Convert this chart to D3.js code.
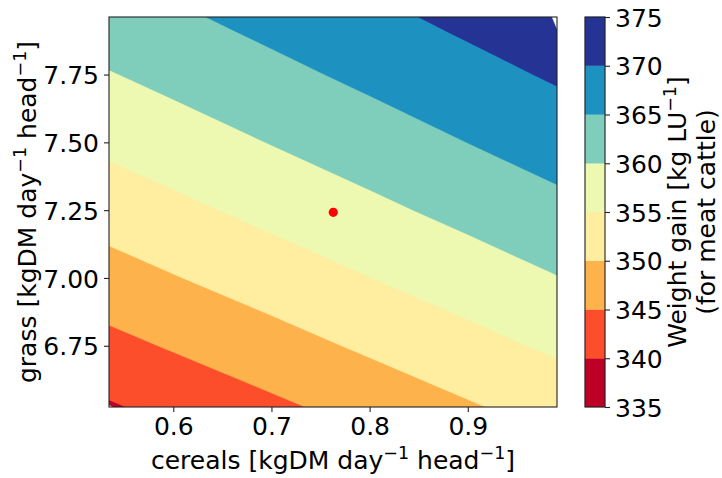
<!DOCTYPE html>
<html><head><meta charset="utf-8">
<script src="https://cdn.jsdelivr.net/npm/d3@7"></script>
<style>
body{margin:0;background:#fff;}
svg{display:block;font-family:"DejaVu Sans",sans-serif;}
</style></head><body>
<svg id="chart" width="722" height="478"></svg>
<script>
// grid nodes (data units)
const cereals = [0.5345, 0.54, 0.6, 0.7, 0.8, 0.9, 0.985, 0.9909];
const grass = [6.5242, 6.535, 6.75, 7.0, 7.25, 7.5, 7.75, 7.91, 7.9622];
// weight gain at grid nodes, rows = grass (ascending), columns = cereals (ascending)
const weightGain = [
  [321.30, 339.68, 341.33, 344.07, 346.80, 349.51, 351.81, 351.97],
  [339.73, 339.88, 341.53, 344.27, 346.99, 349.71, 352.00, 352.16],
  [343.67, 343.82, 345.43, 348.11, 350.77, 353.42, 355.66, 355.81],
  [348.04, 348.19, 349.76, 352.36, 354.95, 357.52, 359.70, 359.85],
  [352.18, 352.32, 353.84, 356.38, 358.89, 361.40, 363.51, 363.66],
  [356.09, 356.22, 357.70, 360.16, 362.61, 365.04, 367.09, 367.23],
  [359.76, 359.89, 361.33, 363.72, 366.09, 368.45, 370.44, 370.58],
  [361.99, 362.12, 363.53, 365.87, 368.20, 370.51, 372.46, 372.60],
  [362.70, 362.83, 364.23, 366.55, 368.86, 371.16, 373.10, 387.00]
];
const levels = [335, 340, 345, 350, 355, 360, 365, 370, 375];
const bandColors = ["#bd0026", "#fc4e2a", "#feb24c", "#ffeda0", "#edf8b1", "#7fcdbb", "#1d91c0", "#253494"];
const xTicks = [0.6, 0.7, 0.8, 0.9];
const yTicks = [6.75, 7.00, 7.25, 7.50, 7.75];
const pointCereals = [0.763];
const pointGrass = [7.242];

const svg = d3.select("#chart");
const plot = {left: 109, right: 557, top: 17, bottom: 407};
const FS = 25;

const x = d3.scaleLinear().domain([cereals[0], cereals[cereals.length - 1]]).range([plot.left, plot.right]);
const y = d3.scaleLinear().domain([grass[0], grass[grass.length - 1]]).range([plot.bottom, plot.top]);

const nx = cereals.length, ny = grass.length;
const values = weightGain.flat();
const ci = d3.scaleLinear().domain(d3.range(nx)).range(cereals);
const gi = d3.scaleLinear().domain(d3.range(ny)).range(grass);
const proj = d3.geoTransform({
  point(px, py) { this.stream.point(x(ci(px - 0.5)), y(gi(py - 0.5))); }
});
const path = d3.geoPath(proj);
const contours = d3.contours().size([nx, ny]).thresholds(levels)(values);

svg.append("defs").append("clipPath").attr("id", "clip")
  .append("rect").attr("x", plot.left).attr("y", plot.top)
  .attr("width", plot.right - plot.left).attr("height", plot.bottom - plot.top);

const g = svg.append("g").attr("clip-path", "url(#clip)");
g.selectAll("path").data(contours).join("path")
  .attr("d", path)
  .attr("fill", (d, i) => i < bandColors.length ? bandColors[i] : "#fff")
  .attr("stroke", (d, i) => i < bandColors.length ? bandColors[i] : "#fff")
  .attr("stroke-width", 0.4);

// point
svg.selectAll("circle.pt").data(pointCereals).join("circle")
  .attr("class", "pt")
  .attr("cx", d => x(d)).attr("cy", (d, i) => y(pointGrass[i]))
  .attr("r", 4.6).attr("fill", "#ff0000");

// frame
svg.append("rect").attr("x", plot.left).attr("y", plot.top)
  .attr("width", plot.right - plot.left).attr("height", plot.bottom - plot.top)
  .attr("fill", "none").attr("stroke", "#222").attr("stroke-width", 1.1);

function styleAxis(sel) {
  sel.select(".domain").remove();
  sel.selectAll(".tick line").attr("stroke", "#222").attr("stroke-width", 1.1);
  sel.selectAll(".tick text").attr("fill", "#000").attr("font-size", FS).attr("font-family", "DejaVu Sans");
}

const xAxis = svg.append("g").attr("transform", `translate(0,${plot.bottom})`)
  .call(d3.axisBottom(x).tickValues(xTicks).tickSize(5).tickPadding(5).tickFormat(d3.format(".1f")));
styleAxis(xAxis);
xAxis.selectAll(".tick text").attr("dy", null).attr("y", 28);

const yAxis = svg.append("g").attr("transform", `translate(${plot.left},0)`)
  .call(d3.axisLeft(y).tickValues(yTicks).tickSize(5).tickPadding(5).tickFormat(d3.format(".2f")));
styleAxis(yAxis);
yAxis.selectAll(".tick text").attr("dy", null).attr("y", 9.1);

// colorbar
const cb = {left: 585, right: 605};
const cy = d3.scaleLinear().domain([levels[0], levels[levels.length - 1]]).range([plot.bottom, plot.top]);
svg.append("g").selectAll("rect").data(bandColors).join("rect")
  .attr("x", cb.left).attr("width", cb.right - cb.left)
  .attr("y", (d, i) => cy(levels[i + 1])).attr("height", (d, i) => cy(levels[i]) - cy(levels[i + 1]))
  .attr("fill", d => d).attr("stroke", d => d).attr("stroke-width", 0.3);
svg.append("rect").attr("x", cb.left).attr("y", plot.top)
  .attr("width", cb.right - cb.left).attr("height", plot.bottom - plot.top)
  .attr("fill", "none").attr("stroke", "#222").attr("stroke-width", 1.1);
const cAxis = svg.append("g").attr("transform", `translate(${cb.right},0)`)
  .call(d3.axisRight(cy).tickValues(levels).tickSize(5).tickPadding(5).tickFormat(d3.format("d")));
styleAxis(cAxis);
cAxis.selectAll(".tick text").attr("dy", null).attr("y", 9.1);

// labels with superscripts
const SUP = 10.5;
function richText(t, parts) {
  let pending = 0;
  parts.forEach(p => {
    const s = t.append("tspan");
    if (typeof p === "string") {
      s.text(p);
      if (pending) { s.attr("dy", pending); pending = 0; }
    } else {
      s.attr("dy", -SUP + pending).attr("font-size", FS * 0.7).text(p.sup);
      pending = SUP;
    }
  });
}
const xl = svg.append("text").attr("x", (plot.left + plot.right) / 2).attr("y", 469)
  .attr("text-anchor", "middle").attr("font-size", FS);
richText(xl, ["cereals [kgDM day", {sup: "\u22121"}, " head", {sup: "\u22121"}, "]"]);

const yl = svg.append("text").attr("transform", `translate(36,${(plot.top + plot.bottom) / 2}) rotate(-90)`)
  .attr("text-anchor", "middle").attr("font-size", FS);
richText(yl, ["grass [kgDM day", {sup: "\u22121"}, " head", {sup: "\u22121"}, "]"]);

const cl1 = svg.append("text").attr("transform", `translate(686,${(plot.top + plot.bottom) / 2}) rotate(-90)`)
  .attr("text-anchor", "middle").attr("font-size", FS);
richText(cl1, ["Weight gain [kg LU", {sup: "\u22121"}, "]"]);
svg.append("text").attr("transform", `translate(715,${(plot.top + plot.bottom) / 2}) rotate(-90)`)
  .attr("text-anchor", "middle").attr("font-size", FS).text("(for meat cattle)");
</script>
</body></html>
